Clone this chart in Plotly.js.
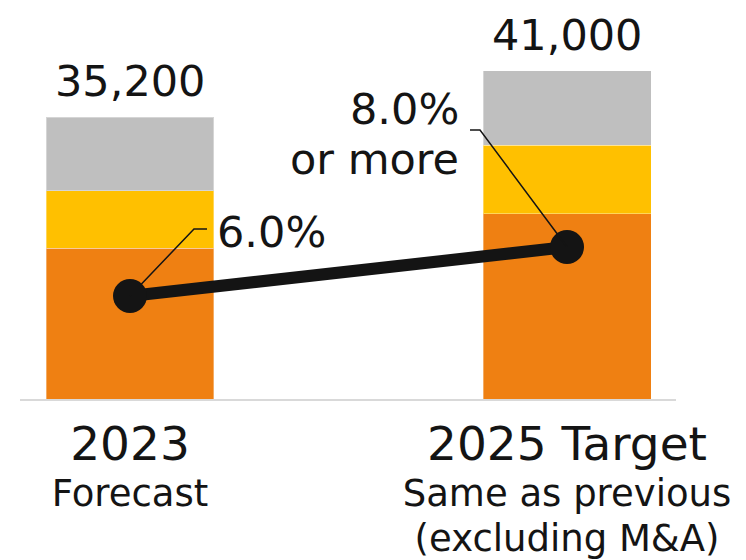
<!DOCTYPE html>
<html>
<head>
<meta charset="utf-8">
<script src="https://cdn.plot.ly/plotly-3.0.1.min.js"></script>
<style>html,body{margin:0;padding:0;background:#fff;}#chart{width:746px;height:560px;}</style>
</head>
<body>
<div id="chart"></div>
<script>
// ---- data ----
const categories = ["2023", "2025 Target"];
const subLabels = [["Forecast"], ["Same as previous", "(excluding M&A)"]];
const orangeSeg = [18800, 23100];
const yellowSeg = [7200, 8600];
const graySeg = [9200, 9300];
const totals = [35200, 41000];
const marginPct = [6.0, 8.0];
const pctLabels = [["6.0%"], ["8.0%", "or more"]];

const FONT = "DejaVu Sans, Verdana, sans-serif";
const INK = "#141414";
const idx = categories.map((c, i) => i);

const edge = {width: 1, color: "rgba(255,255,255,0.35)"};
function barTrace(vals, color) {
  return {type: "bar", x: idx, y: vals, width: 0.3844, hoverinfo: "skip",
    marker: {color: color, line: edge}};
}

const traces = [
  barTrace(orangeSeg, "#EF8012"),
  barTrace(yellowSeg, "#FFC000"),
  barTrace(graySeg, "#BFBFBF"),
  {type: "scatter", mode: "lines+markers", x: idx, y: marginPct, yaxis: "y2",
   line: {color: INK, width: 12}, marker: {color: INK, size: 34}, cliponaxis: false, hoverinfo: "skip"}
];

const ticktext = categories.map((c, i) =>
  '<span style="font-size:47px">' + c + '</span><br>' +
  subLabels[i].map(s => '<span style="font-size:37px">' + s + '</span>').join('<br>'));

const annotations = [];
// totals above bars
totals.forEach((v, i) => annotations.push({
  x: i, y: v, xref: "x", yref: "y", text: v.toLocaleString("en-US"), showarrow: false,
  xanchor: "center", yanchor: "bottom", yshift: 9,
  font: {family: FONT, size: 43, color: INK}}));
// 6.0%
annotations.push({x: 0, y: marginPct[0], xref: "x", yref: "y2", text: pctLabels[0][0], showarrow: false,
  xanchor: "left", yanchor: "middle", xshift: 85, yshift: 64,
  font: {family: FONT, size: 43, color: INK}});
// 8.0% / or more (two lines placed separately)
[138, 88].forEach((ys, k) => annotations.push({x: 1, y: marginPct[1], xref: "x", yref: "y2",
  text: pctLabels[1][k], showarrow: false, xanchor: "right", yanchor: "middle", xshift: -106, yshift: ys,
  font: {family: FONT, size: 43, color: INK}}));

const layout = {
  width: 746, height: 560,
  margin: {l: 20, r: 70, t: 10, b: 161},
  paper_bgcolor: "#fff", plot_bgcolor: "#fff",
  barmode: "stack", showlegend: false,
  font: {family: FONT, color: INK},
  xaxis: {range: [-0.2517, 1.2494], tickvals: idx, ticktext: ticktext, ticklabelstandoff: 17,
    tickfont: {family: FONT, size: 35, color: INK}, showline: true, linecolor: "#d9d9d9", linewidth: 2,
    showgrid: false, zeroline: false, ticks: "", fixedrange: true},
  yaxis: {range: [0, 48564], visible: false, showgrid: false, zeroline: false},
  yaxis2: {range: [1.796, 17.674], overlaying: "y", visible: false, showgrid: false, zeroline: false},
  annotations: annotations,
  shapes: [
    {type: "path", xref: "x", yref: "y2", xsizemode: "pixel", ysizemode: "pixel",
     xanchor: 0, yanchor: marginPct[0], path: "M0,0L64,67L77,67",
     line: {color: INK, width: 1.5}},
    {type: "path", xref: "x", yref: "y2", xsizemode: "pixel", ysizemode: "pixel",
     xanchor: 1, yanchor: marginPct[1], path: "M0,0L-87,117L-97,117",
     line: {color: INK, width: 1.5}}
  ]
};

Plotly.newPlot("chart", traces, layout, {displayModeBar: false, staticPlot: true});
</script>
</body>
</html>
